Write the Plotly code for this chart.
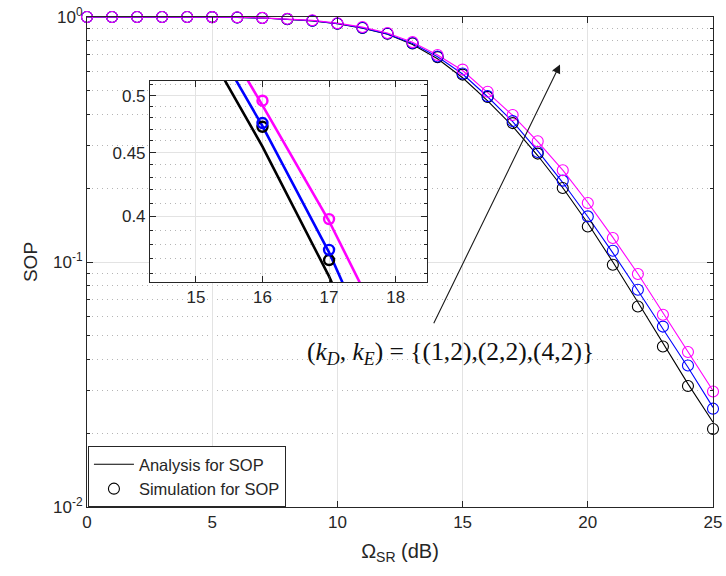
import plotly.graph_objects as go

# ---------------- data ----------------
omega_db = list(range(26))

# simulation (markers)
sim_k1 = [1.0, 1.0, 1.0, 1.0, 1.0, 0.999, 0.996, 0.990, 0.980, 0.965, 0.939, 0.902,
          0.854, 0.780, 0.686, 0.582, 0.472, 0.369, 0.277, 0.2005, 0.1397, 0.0975,
          0.0658, 0.0452, 0.0312, 0.0208]
sim_k2 = [1.0, 1.0, 1.0, 1.0, 1.0, 0.999, 0.996, 0.990, 0.981, 0.966, 0.940, 0.904,
          0.856, 0.783, 0.690, 0.588, 0.4753, 0.376, 0.281, 0.2148, 0.1535, 0.1111,
          0.0770, 0.0545, 0.0378, 0.0252]
sim_k4 = [1.0, 1.0, 1.0, 1.0, 1.0, 0.999, 0.997, 0.992, 0.983, 0.970, 0.943, 0.910,
          0.860, 0.790, 0.700, 0.610, 0.4953, 0.398, 0.311, 0.237, 0.174, 0.1253,
          0.0893, 0.0609, 0.0429, 0.0296]

# analysis (lines)
ana_k1 = [1.0, 1.0, 1.0, 1.0, 1.0, 0.999, 0.996, 0.990, 0.980, 0.964, 0.938, 0.900,
          0.850, 0.773, 0.675, 0.565, 0.455, 0.358, 0.272, 0.201, 0.144, 0.100,
          0.0685, 0.0465, 0.0318, 0.0222]
ana_k2 = [1.0, 1.0, 1.0, 1.0, 1.0, 0.999, 0.996, 0.990, 0.981, 0.966, 0.940, 0.903,
          0.853, 0.780, 0.688, 0.585, 0.4725, 0.3743, 0.284, 0.211, 0.153, 0.109,
          0.0765, 0.0535, 0.0372, 0.0255]
ana_k4 = [1.0, 1.0, 1.0, 1.0, 1.0, 0.999, 0.997, 0.992, 0.983, 0.969, 0.944, 0.909,
          0.860, 0.789, 0.700, 0.605, 0.491, 0.3966, 0.310, 0.237, 0.175, 0.126,
          0.0895, 0.062, 0.0432, 0.0298]

series = [
    ("k1", ana_k1, sim_k1, "#000000"),
    ("k2", ana_k2, sim_k2, "#0000ff"),
    ("k4", ana_k4, sim_k4, "#ff00ff"),
]

main_xticks = [0, 5, 10, 15, 20, 25]
main_yticks = [0.01, 0.1, 1]
main_yticktext = ["10<sup>-2</sup>", "10<sup>-1</sup>", "10<sup>0</sup>"]
main_yminor = [k * 10 ** e for e in (-2, -1) for k in range(2, 10)]

inset_xticks = [15, 16, 17, 18]
inset_yticks = [0.4, 0.45, 0.5]
inset_yticktext = ["0.4", "0.45", "0.5"]
inset_yminor = [0.36, 0.37, 0.38, 0.39, 0.41, 0.42, 0.43, 0.44, 0.46, 0.47, 0.48, 0.49, 0.51]

annot_text = "(<i>k</i><sub><i>D</i></sub>, <i>k</i><sub><i>E</i></sub>) = {(1,2),(2,2),(4,2)}"

# ---------------- figure ----------------
AX = "#262626"
GRID = "#e3e3e3"
MINOR = "#b5b5b5"
FONT = "Liberation Sans, Arial, sans-serif"

fig = go.Figure()

for key, ana, sim, col in series:
    fig.add_trace(go.Scatter(
        x=omega_db, y=ana, mode="lines", line=dict(color=col, width=1.1),
        name="Analysis for SOP", showlegend=(key == "k1"), cliponaxis=False,
        xaxis="x", yaxis="y"))
for key, ana, sim, col in series:
    fig.add_trace(go.Scatter(
        x=omega_db, y=sim, mode="markers",
        marker=dict(symbol="circle-open", size=11, color=col, line=dict(width=1.1, color=col)),
        name="Simulation for SOP", showlegend=(key == "k1"), cliponaxis=False,
        xaxis="x", yaxis="y"))

# inset
for key, ana, sim, col in series:
    fig.add_trace(go.Scatter(
        x=omega_db, y=ana, mode="lines", line=dict(color=col, width=2.6),
        showlegend=False, xaxis="x2", yaxis="y2"))
for key, ana, sim, col in series:
    fig.add_trace(go.Scatter(
        x=omega_db, y=sim, mode="markers",
        marker=dict(symbol="circle-open", size=10, color=col, line=dict(width=2.4, color=col)),
        showlegend=False, xaxis="x2", yaxis="y2"))

common_axis = dict(showline=True, linecolor=AX, linewidth=1, mirror="ticks",
                   ticks="inside", tickcolor=AX, ticklen=6, tickwidth=1,
                   gridcolor=GRID, gridwidth=1, zeroline=False, automargin=False,
                   tickfont=dict(family=FONT, size=17, color=AX))

minor_common = dict(showgrid=True, gridcolor=MINOR, griddash="1px,4px",
                    ticks="inside", ticklen=3, tickcolor=AX)

fig.update_layout(
    width=726, height=576,
    margin=dict(l=87, r=13, t=17, b=69),
    paper_bgcolor="white", plot_bgcolor="white",
    font=dict(family=FONT, color=AX),
    xaxis=dict(common_axis, range=[0, 25], tickvals=main_xticks,
               domain=[0, 1], anchor="y",
               title=dict(text="Ω<sub>SR</sub> (dB)", font=dict(family=FONT, size=20, color=AX),
                          standoff=12)),
    yaxis=dict(common_axis, type="log", range=[-2, 0], tickvals=main_yticks,
               ticktext=main_yticktext, domain=[0, 1], anchor="x",
               minor=dict(minor_common, tickvals=main_yminor),
               title=dict(text="SOP", font=dict(family=FONT, size=19, color=AX), standoff=10)),
    xaxis2=dict(common_axis, range=[14.31, 18.47], tickvals=inset_xticks,
                domain=[0.1006, 0.543], anchor="y2"),
    yaxis2=dict(common_axis, type="log", range=[-0.4506, -0.2893],
                tickvals=inset_yticks, ticktext=inset_yticktext,
                domain=[0.4592, 0.8694], anchor="x2",
                minor=dict(minor_common, tickvals=inset_yminor)),
    legend=dict(x=0.0015, y=0.0, xanchor="left", yanchor="bottom",
                bgcolor="white", bordercolor=AX, borderwidth=1,
                font=dict(family=FONT, size=16.5, color=AX),
                tracegroupgap=0, itemwidth=40),
    showlegend=True,
)

fig.add_annotation(
    x=18.89, y=-0.194, xref="x", yref="y",
    ax=13.82, ay=-1.256, axref="x", ayref="y",
    text="", showarrow=True, arrowhead=2, arrowsize=1.6, arrowwidth=1.1,
    arrowcolor="#1a1a1a", standoff=0)

fig.add_annotation(
    x=14.5, y=-1.371, xref="x", yref="y",
    text=annot_text, showarrow=False,
    font=dict(family="Liberation Serif, Times New Roman, serif", size=25.5, color="#111111"))

fig.write_html("out.html")
